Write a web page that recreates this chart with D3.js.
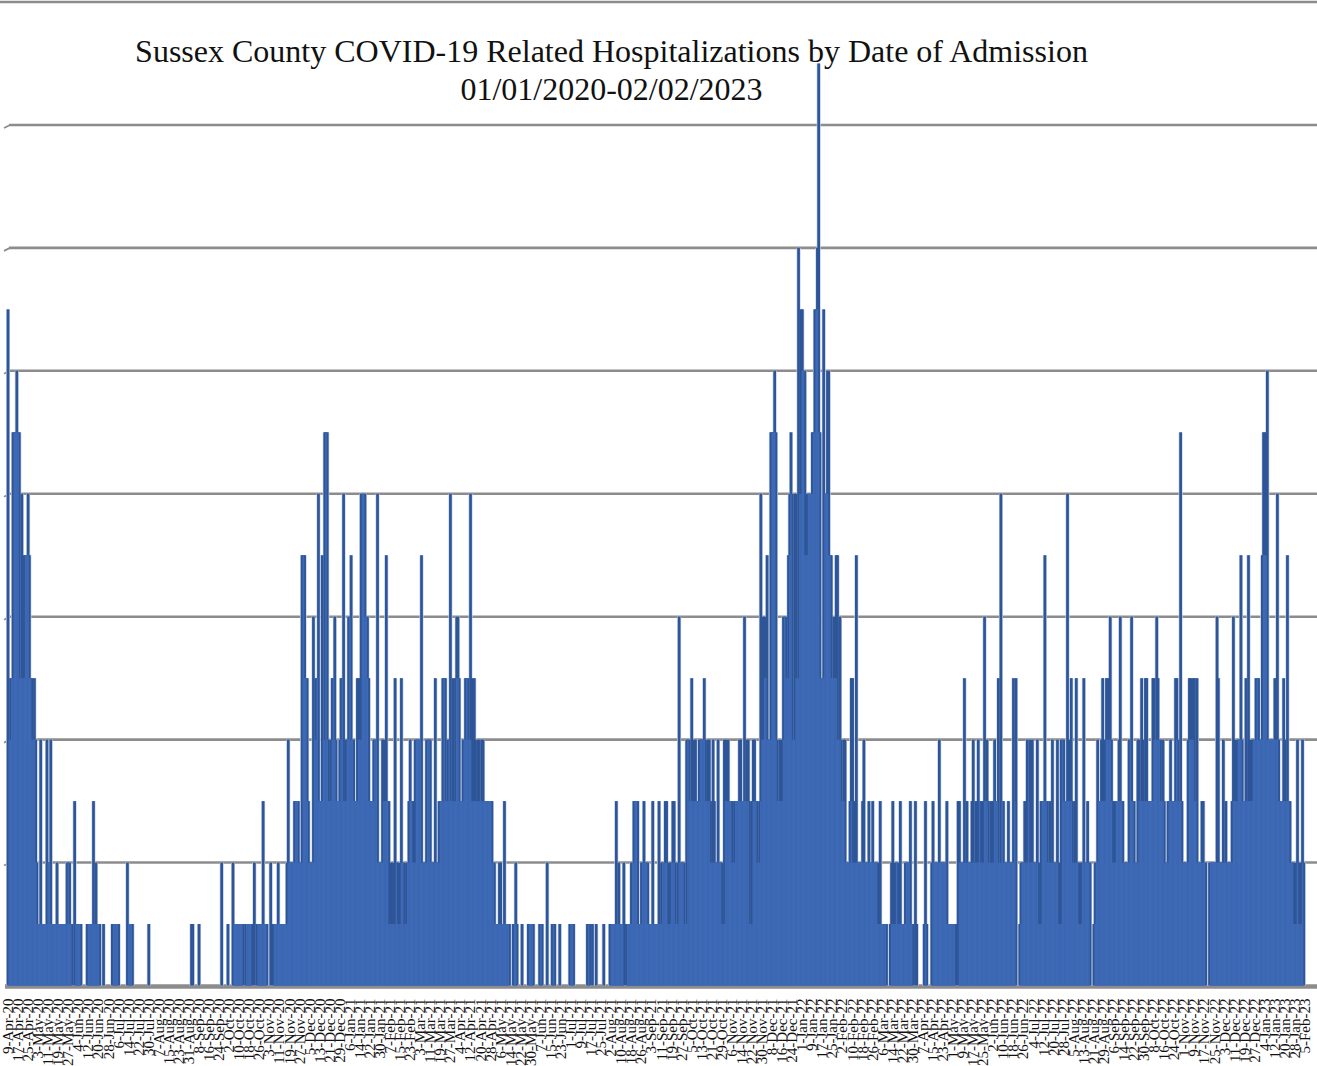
<!DOCTYPE html>
<html>
<head>
<meta charset="utf-8">
<script src="https://cdn.jsdelivr.net/npm/d3@7"></script>
<style>
  html, body { margin: 0; background: #fff; overflow: hidden; }
  text { font-family: "Liberation Serif", "Times New Roman", serif; fill: #111; }
</style>
</head>
<body>
<div id="chart"></div>
<script>
// Daily admissions, starting 9-Apr-20
var values2020 = [
  11,4,5,5,9,9,9,10,9,9, 5,8,5,7,7,7,8,7,5,5,
  4,5,4,2,1,1,4,1,1,1, 1,4,2,2,4,1,1,1,1,2,
  1,1,1,1,1,1,1,2,2,2, 1,1,0,3,1,1,1,1,1,0,
  0,0,0,1,1,1,1,1,3,1, 2,1,1,1,0,0,1,0,0,0,
  0,0,0,1,1,1,1,1,1,0, 0,0,0,0,0,2,1,1,1,1,
  0,0,0,0,0,0,0,0,0,0, 0,0,1,0,0,0,0,0,0,0,
  0,0,0,0,0,0,0,0,0,0, 0,0,0,0,0,0,0,0,0,0,
  0,0,0,0,0,0,1,1,0,0, 0,0,1,0,0,0,0,0,0,0,
  0,0,0,0,0,0,0,0,0,0, 2,0,0,0,0,1,0,0,0,2,
  1,1,1,1,1,1,1,1,0,1, 1,1,1,1,1,0,2,0,1,1,
  1,1,1,3,1,1,1,0,0,2, 0,1,1,1,1,2,1,1,1,1,
  1,1,2,4,2,2,2,2,3,3, 3,3,2,2,7,7,7,5,5,3,
  2,2,2,6,4,5,5,8,3,3, 7,4,9,9,9,4,3,4,5,5,
  6,4,3,3,4,5,5
];
var values2021 = [
  8,3,4,
  4,6,6,7,4,4,3,3,5,5, 4,8,8,8,8,6,6,5,3,3,
  3,4,4,4,8,2,2,2,4,4, 3,7,3,3,1,2,2,1,5,2,
  2,1,2,5,2,2,1,2,2,3, 4,3,3,2,4,4,4,4,4,7,
  2,2,2,4,4,4,4,2,2,2, 5,2,2,3,3,3,5,5,5,3,
  4,4,8,3,5,3,5,6,6,5, 3,3,4,4,5,5,5,4,8,5,
  3,5,4,3,4,4,3,4,4,3, 3,3,3,3,3,3,2,2,1,1,
  1,2,2,1,1,3,1,1,1,1, 0,0,1,1,2,1,0,0,0,1,
  0,0,0,0,1,1,1,1,1,0, 0,0,0,1,1,1,0,0,0,2,
  0,0,0,1,1,1,0,0,0,1, 0,0,0,0,0,0,0,1,1,1,
  1,0,0,0,0,0,0,0,0,0, 0,1,1,1,0,1,0,0,1,0,
  0,0,0,0,1,0,0,0,0,1, 1,1,1,1,3,1,2,1,1,1,
  2,0,1,1,1,1,2,2,3,3, 3,3,1,1,2,2,3,2,2,2,
  1,1,1,3,1,1,1,1,3,1, 2,2,2,3,3,2,1,2,2,3,
  3,2,1,2,6,2,2,2,2,1, 4,4,4,3,5,3,4,4,3,3,
  4,4,4,4,5,4,3,4,4,3, 2,4,3,2,2,4,2,2,2,1,
  4,4,3,4,3,3,3,2,3,3, 3,3,4,4,3,3,6,3,4,4,
  3,1,3,4,4,3,3,2,3,8, 4,6,6,5,7,4,4,9,9,9,
  10,9,4,3,4,3,4,6,6,6, 5,7,8,9,8,4,8,8,5,12,
  8,11
];
var values2022 = [
  11,10,10,7,8,8,8,8,
  9,9,11,11,12,15,9,5,5,11, 8,8,10,10,7,7,5,6,5,7,
  7,4,6,4,3,4,4,2,2,2, 3,5,5,2,3,7,2,2,2,2,
  3,4,2,2,2,3,2,2,3,2, 2,2,2,1,3,1,1,1,1,1,
  0,0,1,2,3,1,2,2,2,1, 3,1,1,1,2,2,2,2,3,1,
  1,0,3,1,0,0,0,0,0,1, 3,1,0,0,0,2,3,2,2,2,
  2,4,2,2,2,2,2,3,1,1, 1,1,1,1,1,0,3,3,2,2,
  2,5,2,3,2,2,2,3,4,2, 3,2,4,3,3,2,3,6,3,4,
  3,2,3,2,3,4,3,3,5,2, 8,3,3,2,2,2,3,2,2,2,
  5,3,5,0,0,1,2,2,2,3, 2,4,3,4,2,4,2,2,2,4,
  2,1,3,3,3,7,3,3,2,3, 2,4,2,2,2,4,2,1,4,4,
  4,3,3,8,4,3,5,3,2,3, 5,2,2,1,2,2,5,2,2,3,
  2,2,0,0,1,2,2,4,3,3, 4,5,3,4,5,5,4,6,4,3,
  2,3,3,3,4,6,3,3,2,2, 2,2,4,4,6,3,3,2,2,4,
  4,3,5,4,3,5,5,3,3,3, 3,5,5,4,6,5,4,4,3,4,
  3,2,2,3,3,4,3,3,3,5, 5,4,3,9,3,2,2,2,2,4,
  5,5,4,5,5,3,5,2,2,2, 3,3,2,2,0,0,2,2,2,2,
  2,2,6,5,2,2,2,4,2,3, 2,2,2,2,3,6,4,3,4,4,
  4,7,4,3,3,5,3,7,4,3, 4,4,4,5,5,5,4
];
var values2023 = [
  4,7,9,9,7,10,4,4,4,4,4,5,4,
  8,4,3,3,3,5,4,3,7,3, 3,2,2,2,1,2,4,2,1,2, 4,2
];
var tickLabels = [
  "9-Apr-20","17-Apr-20","25-Apr-20","3-May-20","11-May-20","19-May-20","27-May-20","4-Jun-20","12-Jun-20","20-Jun-20",
  "28-Jun-20","6-Jul-20","14-Jul-20","22-Jul-20","30-Jul-20","7-Aug-20","15-Aug-20","23-Aug-20","31-Aug-20","8-Sep-20",
  "16-Sep-20","24-Sep-20","2-Oct-20","10-Oct-20","18-Oct-20","26-Oct-20","3-Nov-20","11-Nov-20","19-Nov-20","27-Nov-20",
  "5-Dec-20","13-Dec-20","21-Dec-20","29-Dec-20","6-Jan-21","14-Jan-21","22-Jan-21","30-Jan-21","7-Feb-21","15-Feb-21",
  "23-Feb-21","3-Mar-21","11-Mar-21","19-Mar-21","27-Mar-21","4-Apr-21","12-Apr-21","20-Apr-21","28-Apr-21","6-May-21",
  "14-May-21","22-May-21","30-May-21","7-Jun-21","15-Jun-21","23-Jun-21","1-Jul-21","9-Jul-21","17-Jul-21","25-Jul-21",
  "2-Aug-21","10-Aug-21","18-Aug-21","26-Aug-21","3-Sep-21","11-Sep-21","19-Sep-21","27-Sep-21","5-Oct-21","13-Oct-21",
  "21-Oct-21","29-Oct-21","6-Nov-21","14-Nov-21","22-Nov-21","30-Nov-21","8-Dec-21","16-Dec-21","24-Dec-21","1-Jan-22",
  "9-Jan-22","17-Jan-22","25-Jan-22","2-Feb-22","10-Feb-22","18-Feb-22","26-Feb-22","6-Mar-22","14-Mar-22","22-Mar-22",
  "30-Mar-22","7-Apr-22","15-Apr-22","23-Apr-22","1-May-22","9-May-22","17-May-22","25-May-22","2-Jun-22","10-Jun-22",
  "18-Jun-22","26-Jun-22","4-Jul-22","12-Jul-22","20-Jul-22","28-Jul-22","5-Aug-22","13-Aug-22","21-Aug-22","29-Aug-22",
  "6-Sep-22","14-Sep-22","22-Sep-22","30-Sep-22","8-Oct-22","16-Oct-22","24-Oct-22","1-Nov-22","9-Nov-22","17-Nov-22",
  "25-Nov-22","3-Dec-22","11-Dec-22","19-Dec-22","27-Dec-22","4-Jan-23","12-Jan-23","20-Jan-23","28-Jan-23","5-Feb-23"
];
var yTicks = [0, 2, 4, 6, 8, 10, 12, 14, 16];
var titleLines = ["Sussex County COVID-19 Related Hospitalizations by Date of Admission", "01/01/2020-02/02/2023"];

var w = 1317, h = 1066;
var values = values2020.concat(values2021, values2022, values2023);
var days = values.map(function(v, i) {
  return { day: i, value: v, inner: Math.min(v, values[i - 1] || 0, values[i + 1] || 0) };
}).filter(function(d) { return d.value > 0; });

var svg = d3.select("#chart").append("svg")
  .attr("width", w)
  .attr("height", h)
  .style("display", "block");

var x = d3.scaleBand()
  .domain(d3.range(tickLabels.length * 8 - 7))
  .range([7.4, 7.4 + 1.2568 * (tickLabels.length * 8 - 7)]);

var y = d3.scaleLinear().domain([0, 16]).range([985.5, 2]);

// gridlines, with the little slanted stub at the left end
svg.selectAll(".grid")
  .data(yTicks.slice(1))
.enter().append("line")
  .attr("class", "grid")
  .attr("x1", function(d) { return d == 16 ? 0 : 9; })
  .attr("x2", w)
  .attr("y1", y)
  .attr("y2", y)
  .style("stroke", "#8c8c8c")
  .style("stroke-width", 2.6);

svg.selectAll(".stub")
  .data(yTicks.slice(1, -1))
.enter().append("line")
  .attr("class", "stub")
  .attr("x1", 4)
  .attr("x2", 10)
  .attr("y1", function(d) { return y(d) + 3; })
  .attr("y2", y)
  .style("stroke", "#8c8c8c")
  .style("stroke-width", 1.8);

svg.append("line")
  .attr("x1", 5)
  .attr("x2", w)
  .attr("y1", y(0) + 1)
  .attr("y2", y(0) + 1)
  .style("stroke", "#8c8c8c")
  .style("stroke-width", 4.5);

function barLayer(cls, width, colour, top) {
  svg.selectAll("." + cls)
    .data(days)
  .enter().append("rect")
    .attr("class", cls)
    .attr("x", function(d) { return x(d.day) + x.bandwidth() / 2 - width / 2; })
    .attr("width", width)
    .attr("y", function(d) { return y(top(d)); })
    .attr("height", function(d) { return y(0) - y(top(d)); })
    .style("fill", colour);
}

// soft edge, then the dark outline, then the lighter fill where bars touch
barLayer("halo", 4, "#c3d0e8", function(d) { return d.value; });
barLayer("edge", 2.7, "#2d5597", function(d) { return d.value; });
barLayer("fill", 1.6, "#3e69b5", function(d) { return d.inner; });

var xAxis = d3.axisBottom(x)
  .tickValues(d3.range(0, tickLabels.length * 8, 8))
  .tickFormat(function(d) { return tickLabels[d / 8]; })
  .tickSize(0);

var axisG = svg.append("g")
  .attr("transform", "translate(0,998.5)")
  .call(xAxis);

axisG.select(".domain").remove();
axisG.selectAll("text")
  .attr("transform", "rotate(-90)")
  .attr("x", 0)
  .attr("y", 0)
  .attr("dy", ".33em")
  .style("text-anchor", "end")
  .style("font-family", '"Liberation Serif", serif')
  .style("font-size", "15px")
  .style("fill", "#111");

svg.selectAll(".title")
  .data(titleLines)
.enter().append("text")
  .attr("class", "title")
  .attr("x", 611.5)
  .attr("y", function(d, i) { return 62 + i * 38; })
  .attr("text-anchor", "middle")
  .style("font-size", "32px")
  .text(String);
</script>
</body>
</html>
